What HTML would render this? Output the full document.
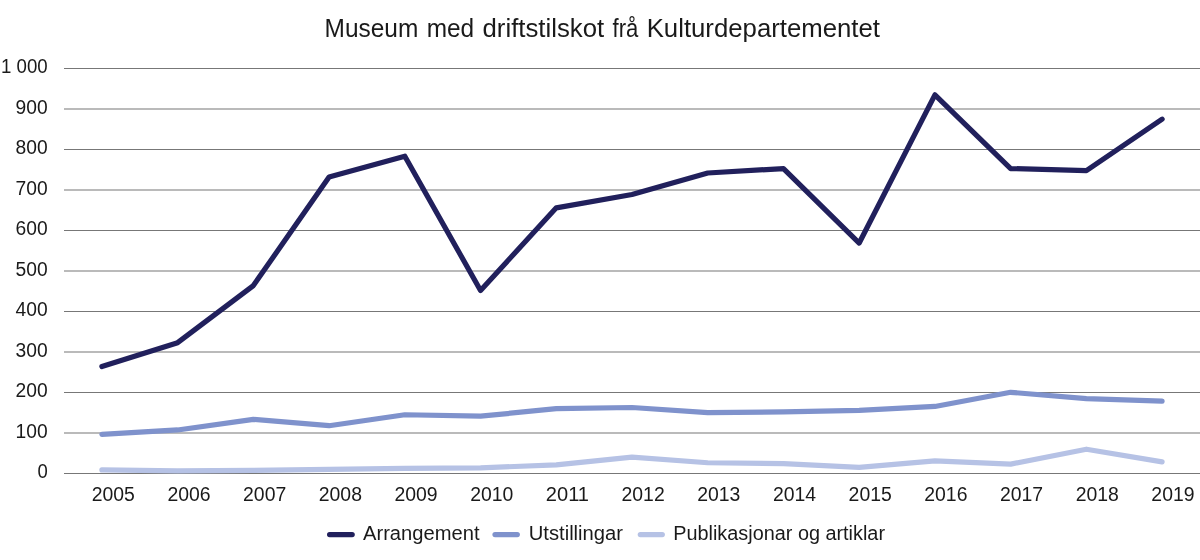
<!DOCTYPE html>
<html><head><meta charset="utf-8"><style>
html,body{margin:0;padding:0;background:#fff;}
svg{display:block;will-change:transform;}
text{font-family:"Liberation Sans",sans-serif;fill:#1a1a1a;}
</style></head><body>
<svg width="1200" height="560" viewBox="0 0 1200 560">
<rect width="1200" height="560" fill="#fff"/>
<line x1="64" x2="1200" y1="473.50" y2="473.50" stroke="#777777" stroke-width="1.1"/>
<line x1="64" x2="1200" y1="433.00" y2="433.00" stroke="#777777" stroke-width="1.1"/>
<line x1="64" x2="1200" y1="392.50" y2="392.50" stroke="#777777" stroke-width="1.1"/>
<line x1="64" x2="1200" y1="352.00" y2="352.00" stroke="#777777" stroke-width="1.1"/>
<line x1="64" x2="1200" y1="311.50" y2="311.50" stroke="#777777" stroke-width="1.1"/>
<line x1="64" x2="1200" y1="271.00" y2="271.00" stroke="#777777" stroke-width="1.1"/>
<line x1="64" x2="1200" y1="230.50" y2="230.50" stroke="#777777" stroke-width="1.1"/>
<line x1="64" x2="1200" y1="190.00" y2="190.00" stroke="#777777" stroke-width="1.1"/>
<line x1="64" x2="1200" y1="149.50" y2="149.50" stroke="#777777" stroke-width="1.1"/>
<line x1="64" x2="1200" y1="109.00" y2="109.00" stroke="#777777" stroke-width="1.1"/>
<line x1="64" x2="1200" y1="68.50" y2="68.50" stroke="#777777" stroke-width="1.1"/>
<text x="37.40" y="478.20" font-size="19.50" textLength="10.30" lengthAdjust="spacingAndGlyphs">0</text>
<text x="15.60" y="437.70" font-size="19.50" textLength="32.09" lengthAdjust="spacingAndGlyphs">100</text>
<text x="15.60" y="397.20" font-size="19.50" textLength="32.09" lengthAdjust="spacingAndGlyphs">200</text>
<text x="15.60" y="356.70" font-size="19.50" textLength="32.09" lengthAdjust="spacingAndGlyphs">300</text>
<text x="15.60" y="316.20" font-size="19.50" textLength="32.09" lengthAdjust="spacingAndGlyphs">400</text>
<text x="15.60" y="275.70" font-size="19.50" textLength="32.09" lengthAdjust="spacingAndGlyphs">500</text>
<text x="15.60" y="235.20" font-size="19.50" textLength="32.09" lengthAdjust="spacingAndGlyphs">600</text>
<text x="15.60" y="194.70" font-size="19.50" textLength="32.09" lengthAdjust="spacingAndGlyphs">700</text>
<text x="15.60" y="154.20" font-size="19.50" textLength="32.09" lengthAdjust="spacingAndGlyphs">800</text>
<text x="15.60" y="113.70" font-size="19.50" textLength="32.09" lengthAdjust="spacingAndGlyphs">900</text>
<text x="1.00" y="73.20" font-size="19.50" textLength="46.70" lengthAdjust="spacingAndGlyphs">1 000</text>
<text x="91.70" y="500.90" font-size="19.50" textLength="43.18" lengthAdjust="spacingAndGlyphs">2005</text>
<text x="167.39" y="500.90" font-size="19.50" textLength="43.18" lengthAdjust="spacingAndGlyphs">2006</text>
<text x="243.08" y="500.90" font-size="19.50" textLength="43.18" lengthAdjust="spacingAndGlyphs">2007</text>
<text x="318.77" y="500.90" font-size="19.50" textLength="43.18" lengthAdjust="spacingAndGlyphs">2008</text>
<text x="394.46" y="500.90" font-size="19.50" textLength="43.18" lengthAdjust="spacingAndGlyphs">2009</text>
<text x="470.15" y="500.90" font-size="19.50" textLength="43.18" lengthAdjust="spacingAndGlyphs">2010</text>
<text x="545.84" y="500.90" font-size="19.50" textLength="43.18" lengthAdjust="spacingAndGlyphs">2011</text>
<text x="621.53" y="500.90" font-size="19.50" textLength="43.18" lengthAdjust="spacingAndGlyphs">2012</text>
<text x="697.22" y="500.90" font-size="19.50" textLength="43.18" lengthAdjust="spacingAndGlyphs">2013</text>
<text x="772.91" y="500.90" font-size="19.50" textLength="43.18" lengthAdjust="spacingAndGlyphs">2014</text>
<text x="848.60" y="500.90" font-size="19.50" textLength="43.18" lengthAdjust="spacingAndGlyphs">2015</text>
<text x="924.29" y="500.90" font-size="19.50" textLength="43.18" lengthAdjust="spacingAndGlyphs">2016</text>
<text x="999.98" y="500.90" font-size="19.50" textLength="43.18" lengthAdjust="spacingAndGlyphs">2017</text>
<text x="1075.67" y="500.90" font-size="19.50" textLength="43.18" lengthAdjust="spacingAndGlyphs">2018</text>
<text x="1151.36" y="500.90" font-size="19.50" textLength="43.18" lengthAdjust="spacingAndGlyphs">2019</text>
<polyline points="101.90,469.86 177.63,470.87 253.36,470.46 329.09,469.45 404.82,468.44 480.55,467.83 556.28,464.79 632.01,457.10 707.74,462.77 783.47,463.58 859.20,467.30 934.93,460.94 1010.66,464.10 1086.39,449.20 1162.12,461.92" fill="none" stroke="#b6c2e5" stroke-width="5.2" stroke-linecap="round" stroke-linejoin="round"/>
<polyline points="101.90,434.42 177.63,429.96 253.36,419.43 329.09,425.71 404.82,414.77 480.55,416.19 556.28,408.70 632.01,407.49 707.74,412.55 783.47,411.94 859.20,410.32 934.93,406.47 1010.66,392.30 1086.39,398.57 1162.12,401.09" fill="none" stroke="#7f92cc" stroke-width="5.2" stroke-linecap="round" stroke-linejoin="round"/>
<polyline points="101.90,366.58 177.63,342.69 253.36,285.58 329.09,177.04 404.82,156.18 480.55,290.44 556.28,207.82 632.01,194.45 707.74,172.99 783.47,168.53 859.20,243.05 934.93,94.82 1010.66,168.53 1086.39,170.56 1162.12,119.12" fill="none" stroke="#21205c" stroke-width="5.2" stroke-linecap="round" stroke-linejoin="round"/>
<text x="324.60" y="37.00" font-size="25.00" textLength="93.71" lengthAdjust="spacingAndGlyphs">Museum</text>
<text x="426.70" y="37.00" font-size="25.00" textLength="47.48" lengthAdjust="spacingAndGlyphs">med</text>
<text x="482.50" y="37.00" font-size="25.00" textLength="121.68" lengthAdjust="spacingAndGlyphs">driftstilskot</text>
<text x="612.50" y="37.00" font-size="25.00" textLength="25.78" lengthAdjust="spacingAndGlyphs">frå</text>
<text x="646.70" y="37.00" font-size="25.00" textLength="233.28" lengthAdjust="spacingAndGlyphs">Kulturdepartementet</text>
<line x1="329.60" x2="352.20" y1="534.6" y2="534.6" stroke="#21205c" stroke-width="5.2" stroke-linecap="round"/>
<text x="363.00" y="540.00" font-size="20.00" textLength="116.52" lengthAdjust="spacingAndGlyphs">Arrangement</text>
<line x1="495.00" x2="517.30" y1="534.6" y2="534.6" stroke="#7f92cc" stroke-width="5.2" stroke-linecap="round"/>
<text x="528.75" y="540.00" font-size="20.00" textLength="94.26" lengthAdjust="spacingAndGlyphs">Utstillingar</text>
<line x1="640.30" x2="662.30" y1="534.6" y2="534.6" stroke="#b6c2e5" stroke-width="5.2" stroke-linecap="round"/>
<text x="673.25" y="540.00" font-size="20.00" textLength="211.74" lengthAdjust="spacingAndGlyphs">Publikasjonar og artiklar</text>
</svg>
</body></html>
